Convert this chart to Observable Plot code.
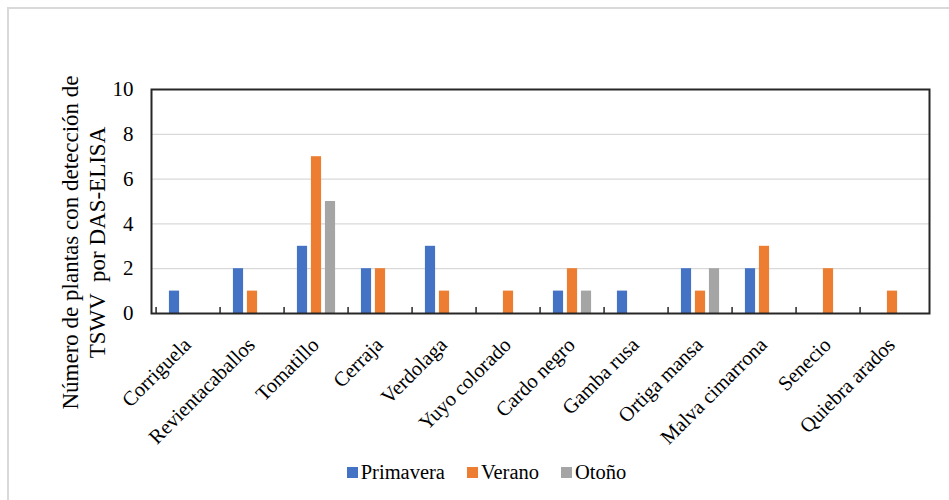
<!DOCTYPE html>
<html>
<head>
<meta charset="utf-8">
<script src="https://cdn.jsdelivr.net/npm/d3@7"></script>
<script src="https://cdn.jsdelivr.net/npm/@observablehq/plot@0.6"></script>
<style>
  html, body { margin: 0; padding: 0; background: #fff; }
  #chart { position: relative; width: 949px; height: 500px; overflow: hidden;
           font-family: 'Liberation Serif', Tinos, 'Times New Roman', Times, 'DejaVu Serif', serif; }
  #chart .edge { position: absolute; left: 7px; top: 7px; width: 960px; height: 510px;
                 border-top: 2px solid #d9d9d9; border-left: 2px solid #d9d9d9; pointer-events: none; }
  #chart svg text { font-family: 'Liberation Serif', Tinos, 'Times New Roman', Times, 'DejaVu Serif', serif; white-space: pre; }
  #legend { position: absolute; left: 0; top: 447px; width: 949px; height: 50px;
            display: flex; justify-content: center; align-items: center; gap: 22px;
            font-size: 20.5px; color: #000; padding-left: 24px; box-sizing: border-box; }
  #legend .item { display: flex; align-items: center; gap: 3px; }
  #legend .sw { width: 11px; height: 11px; display: inline-block; }
</style>
</head>
<body>
<div id="chart"><div class="edge"></div></div>
<script>
// Weeds sampled, in the order they appear along the x axis
const categories = [
  "Corriguela", "Revientacaballos", "Tomatillo", "Cerraja", "Verdolaga",
  "Yuyo colorado", "Cardo negro", "Gamba rusa", "Ortiga mansa",
  "Malva cimarrona", "Senecio", "Quiebra arados"
];
const seasons = ["Primavera", "Verano", "Otoño"];
const seasonColors = ["#4472C4", "#ED7D31", "#A5A5A5"];

// Plants with TSWV detected by DAS-ELISA, per season
const primavera = [1, 2, 3, 2, 3, 0, 1, 1, 2, 2, 0, 0];
const verano    = [0, 1, 7, 2, 1, 1, 2, 0, 1, 3, 2, 1];
const otono     = [0, 0, 5, 0, 0, 0, 1, 0, 2, 0, 0, 0];

const yTicks = [0, 2, 4, 6, 8, 10];
const yLabelLines = ["Número de plantas con detección de", "TSWV  por DAS-ELISA"];

const seriesValues = [primavera, verano, otono];
const rows = seasons.map((season, i) =>
  categories.map((category, j) => ({category, season, value: seriesValues[i][j]}))
);

const W = 949, H = 450;
const mL = 151, mR = 20, mT = 89, mB = 137;
const band = (W - mL - mR) / categories.length;
const barW = 11, barStep = 14;
const inset = (band - barW) / 2;

const font = `'Liberation Serif', Tinos, 'Times New Roman', Times, 'DejaVu Serif', serif`;

const chart = Plot.plot({
  width: W,
  height: H,
  marginLeft: mL,
  marginRight: mR,
  marginTop: mT,
  marginBottom: mB,
  style: {fontFamily: font, fontSize: "21px", color: "#000", background: "transparent"},
  x: {domain: categories, padding: 0, axis: null, label: null},
  y: {domain: [0, 10], axis: null, label: null},
  color: {domain: seasons, range: seasonColors},
  marks: [
    Plot.gridY(yTicks.filter(d => d > 0 && d < 10), {stroke: "#d9d9d9", strokeOpacity: 1, strokeWidth: 1.2}),
    // one bar mark per season, shifted side by side inside each category band
    ...rows.map((data, i) =>
      Plot.barY(data.filter(d => d.value > 0), {
        x: "category", y: "value", fill: "season",
        insetLeft: inset, insetRight: inset, dx: (i - 1) * barStep
      })
    ),
    Plot.frame({stroke: "#262626", strokeWidth: 2}),
    // category separators: short inward ticks at band boundaries
    Plot.axisX({
      label: null, tickSize: -6, tickFormat: () => "", dx: -band / 2,
      stroke: "#262626", strokeWidth: 1.5, strokeOpacity: 1
    }),
    Plot.text(categories, {
      x: d => d, frameAnchor: "bottom", rotate: -45, textAnchor: "end", lineAnchor: "middle",
      dx: -1, dy: 28, fontSize: 20.5, fill: "#000"
    }),
    Plot.axisY({
      ticks: yTicks, tickSize: 0, tickPadding: 18, fontSize: 21, label: null, fill: "#000"
    }),
    // two-line y title, one text mark per line
    ...yLabelLines.map((line, i) =>
      Plot.text([line], {
        frameAnchor: "left", rotate: -90, textAnchor: "middle", lineAnchor: "middle",
        dx: i === 0 ? -81 : -54, dy: 41, fontSize: 23, fill: "#000"
      })
    )
  ]
});
chart.style.position = "absolute";
chart.style.left = "0px";
chart.style.top = "0px";
document.getElementById("chart").appendChild(chart);

// legend below the plot
const legend = document.createElement("div");
legend.id = "legend";
seasons.forEach((s, i) => {
  const item = document.createElement("span");
  item.className = "item";
  const sw = document.createElement("span");
  sw.className = "sw";
  sw.style.background = seasonColors[i];
  const label = document.createElement("span");
  label.textContent = s;
  item.appendChild(sw);
  item.appendChild(label);
  legend.appendChild(item);
});
document.getElementById("chart").appendChild(legend);
</script>
</body>
</html>
